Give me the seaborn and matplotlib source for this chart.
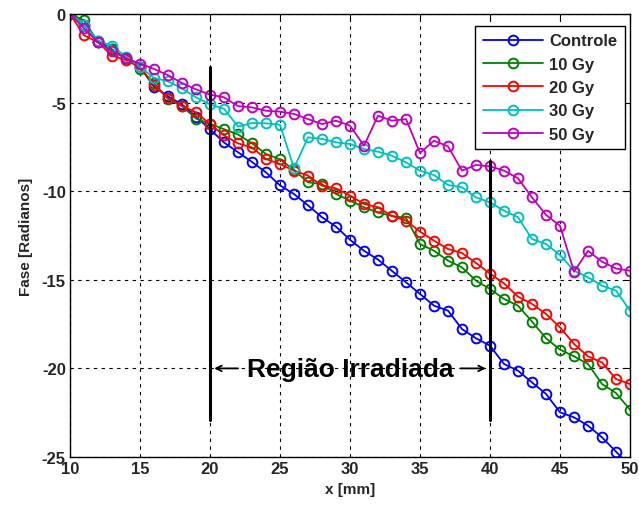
import numpy as np
import pandas as pd
import matplotlib
matplotlib.use("Agg")
import matplotlib.pyplot as plt
import seaborn as sns
from matplotlib.lines import Line2D

x_mm = list(range(10, 51))

controle = [0, -0.6, -1.5, -2.0, -2.5, -3.0, -4.1, -4.65, -5.1, -5.8,
            -6.5, -7.25, -7.8, -8.35, -8.94, -9.67, -10.16, -10.8, -11.47, -12.0,
            -12.74, -13.36, -13.86, -14.5, -15.14, -15.8, -16.46, -16.74, -17.78, -18.3,
            -18.72, -19.75, -20.13, -20.79, -21.44, -22.48, -22.76, -23.23, -23.89, -24.7,
            -25.5]
gy10 = [0, -0.35, -1.6, -2.0, -2.5, -3.1, -3.9, -4.8, -5.2, -5.9,
        -6.2, -6.5, -6.8, -7.3, -7.9, -8.2, -8.8, -9.5, -9.6, -10.16,
        -10.53, -10.91, -11.2, -11.4, -11.5, -12.98, -13.36, -13.92, -14.3, -15.05,
        -15.52, -16.08, -16.46, -17.36, -18.3, -18.94, -19.32, -19.75, -20.88, -21.39,
        -22.33]
gy20 = [0, -1.2, -1.6, -2.35, -2.6, -3.0, -4.0, -4.75, -5.17, -5.55,
        -6.21, -6.85, -7.3, -7.53, -8.18, -8.47, -8.84, -9.12, -9.69, -9.84,
        -10.25, -10.72, -10.91, -11.4, -11.66, -12.28, -12.79, -13.26, -13.49, -14.05,
        -14.65, -15.2, -15.95, -16.36, -16.93, -17.68, -18.62, -19.32, -19.66, -20.6,
        -20.88]
gy30 = [0, -0.6, -1.5, -1.8, -2.4, -3.0, -3.6, -3.8, -4.2, -4.7,
        -5.1, -5.35, -6.35, -6.15, -6.17, -6.25, -8.7, -6.96, -7.05, -7.24,
        -7.34, -7.62, -7.77, -8.0, -8.37, -8.84, -9.09, -9.65, -9.78, -10.35,
        -10.63, -11.1, -11.47, -12.7, -12.98, -13.6, -14.49, -14.86, -15.33, -15.61,
        -16.74]
gy50 = [0, -0.8, -1.6, -2.1, -2.5, -2.8, -3.1, -3.45, -3.9, -4.25,
        -4.55, -4.7, -5.2, -5.27, -5.46, -5.51, -5.64, -5.93, -6.21, -6.02,
        -6.30, -7.43, -5.74, -6.02, -5.93, -7.84, -7.15, -7.47, -8.84, -8.52,
        -8.6, -8.84, -9.27, -10.35, -11.34, -11.95, -14.54, -13.36, -13.98, -14.36,
        -14.49]

series_names = ["Controle", "10 Gy", "20 Gy", "30 Gy", "50 Gy"]
series_vals = [controle, gy10, gy20, gy30, gy50]
colors = ["#0000ff", "#008000", "#ff0000", "#00bfbf", "#bf00bf"]

region_x = [20, 40]
region_top = [-3.0, -8.3]
region_bottom = -22.9
region_label = "Região Irradiada"

xticks = list(range(10, 51, 5))
yticks = list(range(-25, 1, 5))

df = pd.DataFrame({
    "x": np.tile(x_mm, len(series_names)),
    "fase": np.concatenate(series_vals),
    "serie": np.repeat(series_names, len(x_mm)),
})

sns.set_style("white")
plt.rcParams["font.family"] = ["Liberation Sans", "DejaVu Sans"]
plt.rcParams["axes.unicode_minus"] = False

fig = plt.figure(figsize=(6.39, 5.06), dpi=100)
ax = fig.add_axes([70/639, 1-458/506, 560/639, 443/506])

sns.lineplot(data=df, x="x", y="fase", hue="serie", hue_order=series_names,
             palette=colors, marker="o", markerfacecolor="none",
             markeredgewidth=1.4, markersize=7, linewidth=1.3,
             legend=False, ax=ax, estimator=None, sort=False)
for ln, c in zip(ax.lines, colors):
    ln.set_markeredgecolor(c)

ax.set_xlim(10, 50)
ax.set_ylim(-25, 0)
ax.set_xticks(xticks)
ax.set_yticks(yticks)
ax.grid(True, color="black", linestyle=(0, (3, 4)), linewidth=0.8)
ax.tick_params(direction="in", top=True, right=True, length=4, width=0.8,
               labelsize=12, pad=3, color="black")
for lab in ax.get_xticklabels() + ax.get_yticklabels():
    lab.set_fontweight("bold")
for sp in ax.spines.values():
    sp.set_color("black")
    sp.set_linewidth(1.0)
ax.set_axisbelow(True)

ax.set_xlabel("x [mm]", fontsize=11, fontweight="bold", labelpad=4)
ax.set_ylabel("Fase [Radianos]", fontsize=11, fontweight="bold", labelpad=6)

for xr, yt in zip(region_x, region_top):
    ax.plot([xr, xr], [yt, region_bottom], color="black", linewidth=2.2, zorder=5)

ax.text(30, -20.45, region_label, ha="center", va="baseline", fontsize=19,
        fontweight="bold", color="black", zorder=6)
ax.annotate("", xy=(20.1, -20.0), xytext=(22.2, -20.0),
            arrowprops=dict(arrowstyle="->", lw=1.3, color="black"), zorder=6)
ax.annotate("", xy=(39.9, -20.0), xytext=(37.7, -20.0),
            arrowprops=dict(arrowstyle="->", lw=1.3, color="black"), zorder=6)

handles = [Line2D([0], [0], color=c, linewidth=1.3, marker="o",
                  markerfacecolor="none", markeredgecolor=c,
                  markeredgewidth=1.4, markersize=7) for c in colors]
leg = ax.legend(handles, series_names, loc="upper right",
                bbox_to_anchor=(0.991, 0.973), borderaxespad=0,
                fancybox=False, framealpha=1, edgecolor="black",
                prop={"weight": "bold", "size": 12}, handlelength=3.6,
                handletextpad=0.4, labelspacing=0.5, numpoints=1,
                borderpad=0.45)
leg.get_frame().set_linewidth(1.0)

fig.savefig("out.png", dpi=100)
